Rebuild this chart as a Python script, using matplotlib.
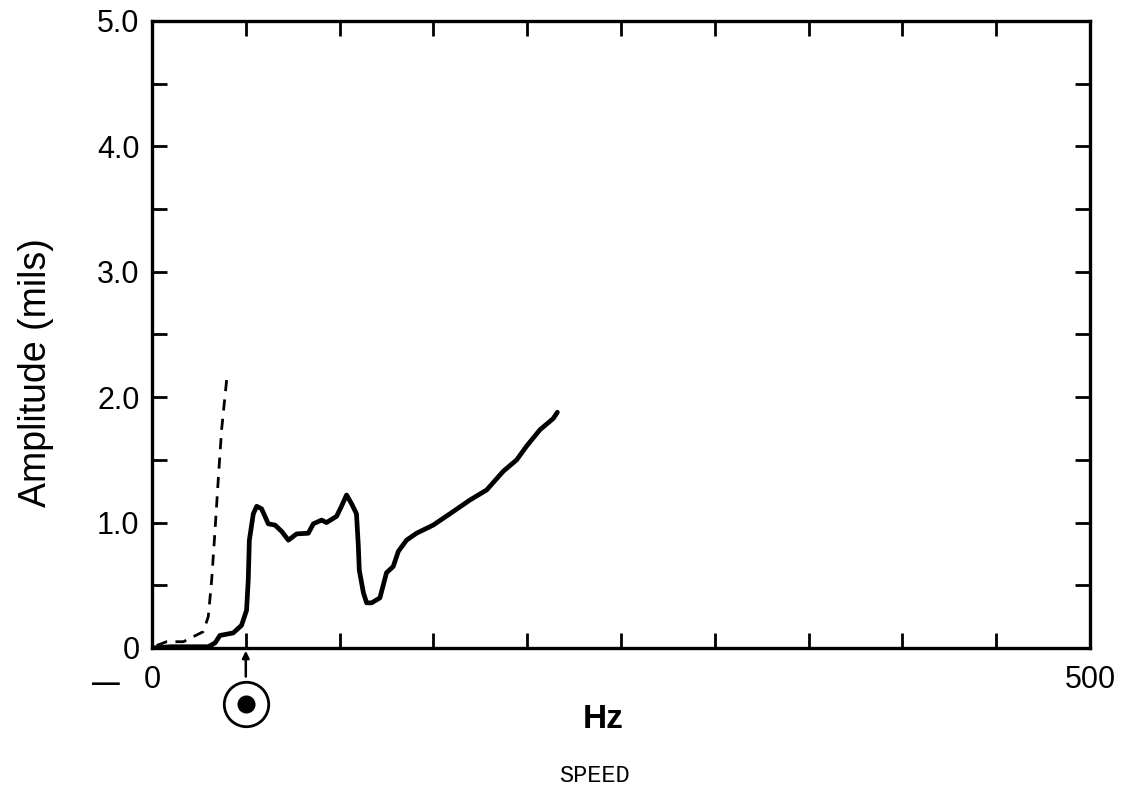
import numpy as np
import matplotlib
matplotlib.use("Agg")
import matplotlib.pyplot as plt

plt.rcParams['font.family'] = ['Liberation Sans', 'DejaVu Sans']

# solid trace (Hz, mils)
solid_hz = [0, 10, 20, 30, 33.6, 36.2, 43.3, 47.7, 50.4, 51.3, 51.9, 54.0, 55.8, 58.4,
            62.0, 65.6, 69.1, 72.7, 77.1, 83.3, 86.0, 90.4, 93.0, 98.4, 101.0, 103.7,
            106.4, 109.0, 110.0, 110.5, 112.7, 114.4, 117.1, 121.5, 125.0, 128.6, 131.3,
            135.7, 141.0, 149.9, 158.8, 169.5, 178.4, 187.3, 194.4, 199.7, 206.8, 213.9, 216.1]
solid_amp = [0.0, 0.01, 0.01, 0.01, 0.04, 0.10, 0.12, 0.18, 0.30, 0.54, 0.86, 1.07, 1.13, 1.11,
             0.99, 0.98, 0.93, 0.86, 0.91, 0.915, 0.99, 1.02, 1.00, 1.05, 1.13, 1.22,
             1.15, 1.07, 0.81, 0.62, 0.44, 0.36, 0.36, 0.40, 0.60, 0.65, 0.77,
             0.86, 0.915, 0.98, 1.07, 1.18, 1.26, 1.41, 1.50, 1.61, 1.74, 1.83, 1.88]

# dashed trace
dash_hz = [2.5, 7.8, 16.7, 22.0, 27.3, 30.0, 31.8, 33.6, 35.3, 37.1, 39.8, 40.5]
dash_amp = [0.02, 0.05, 0.05, 0.09, 0.13, 0.25, 0.54, 0.94, 1.34, 1.74, 2.14, 2.19]

x_ticks = np.arange(0, 501, 50)
x_labels = ['0'] + [''] * 9 + ['500']
y_ticks = np.arange(0, 5.01, 0.5)
y_labels = ['0', '', '1.0', '', '2.0', '', '3.0', '', '4.0', '', '5.0']
marker_hz = 50

fig = plt.figure(figsize=(11.31, 7.91), dpi=100)
ax = fig.add_axes([0.1344, 0.1808, 0.8293, 0.7927])

ax.plot(solid_hz, solid_amp, color='black', lw=3.4, solid_capstyle='round', solid_joinstyle='round')
ax.plot(dash_hz, dash_amp, color='black', lw=2.0, ls=(0, (4, 3)))

ax.set_xlim(0, 500)
ax.set_ylim(0, 5.0)
ax.set_xticks(x_ticks)
ax.set_xticklabels(x_labels)
ax.set_yticks(y_ticks)
ax.set_yticklabels(y_labels)
ax.tick_params(direction='in', length=11, width=2, labelsize=22, top=True, right=True)
ax.tick_params(axis='x', pad=12)
ax.tick_params(axis='y', pad=9)
for s in ax.spines.values():
    s.set_linewidth(2.4)

ax.set_ylabel('Amplitude (mils)', fontsize=27)
ax.yaxis.set_label_coords(-0.105, 0.44)

# speed marker below the axis
ax.annotate('', xy=(marker_hz, 0), xytext=(marker_hz, -0.25), xycoords='data',
            arrowprops=dict(arrowstyle='-|>', color='black', lw=1.8, mutation_scale=10),
            annotation_clip=False)
ax.plot(marker_hz, -0.45, marker='o', ms=32, mfc='white', mec='black', mew=2, clip_on=False)
ax.plot(marker_hz, -0.45, marker='o', ms=12, color='black', clip_on=False)

fig.text(0.533, 0.090, 'Hz', fontsize=24, fontweight='bold', ha='center', va='center')
fig.text(0.526, 0.020, 'SPEED', fontsize=17, family='Liberation Mono', ha='center', va='center')
fig.text(0.094, 0.135, '\u2014', fontsize=20, fontweight='bold', ha='center', va='center')

fig.savefig('out.png', dpi=100)
